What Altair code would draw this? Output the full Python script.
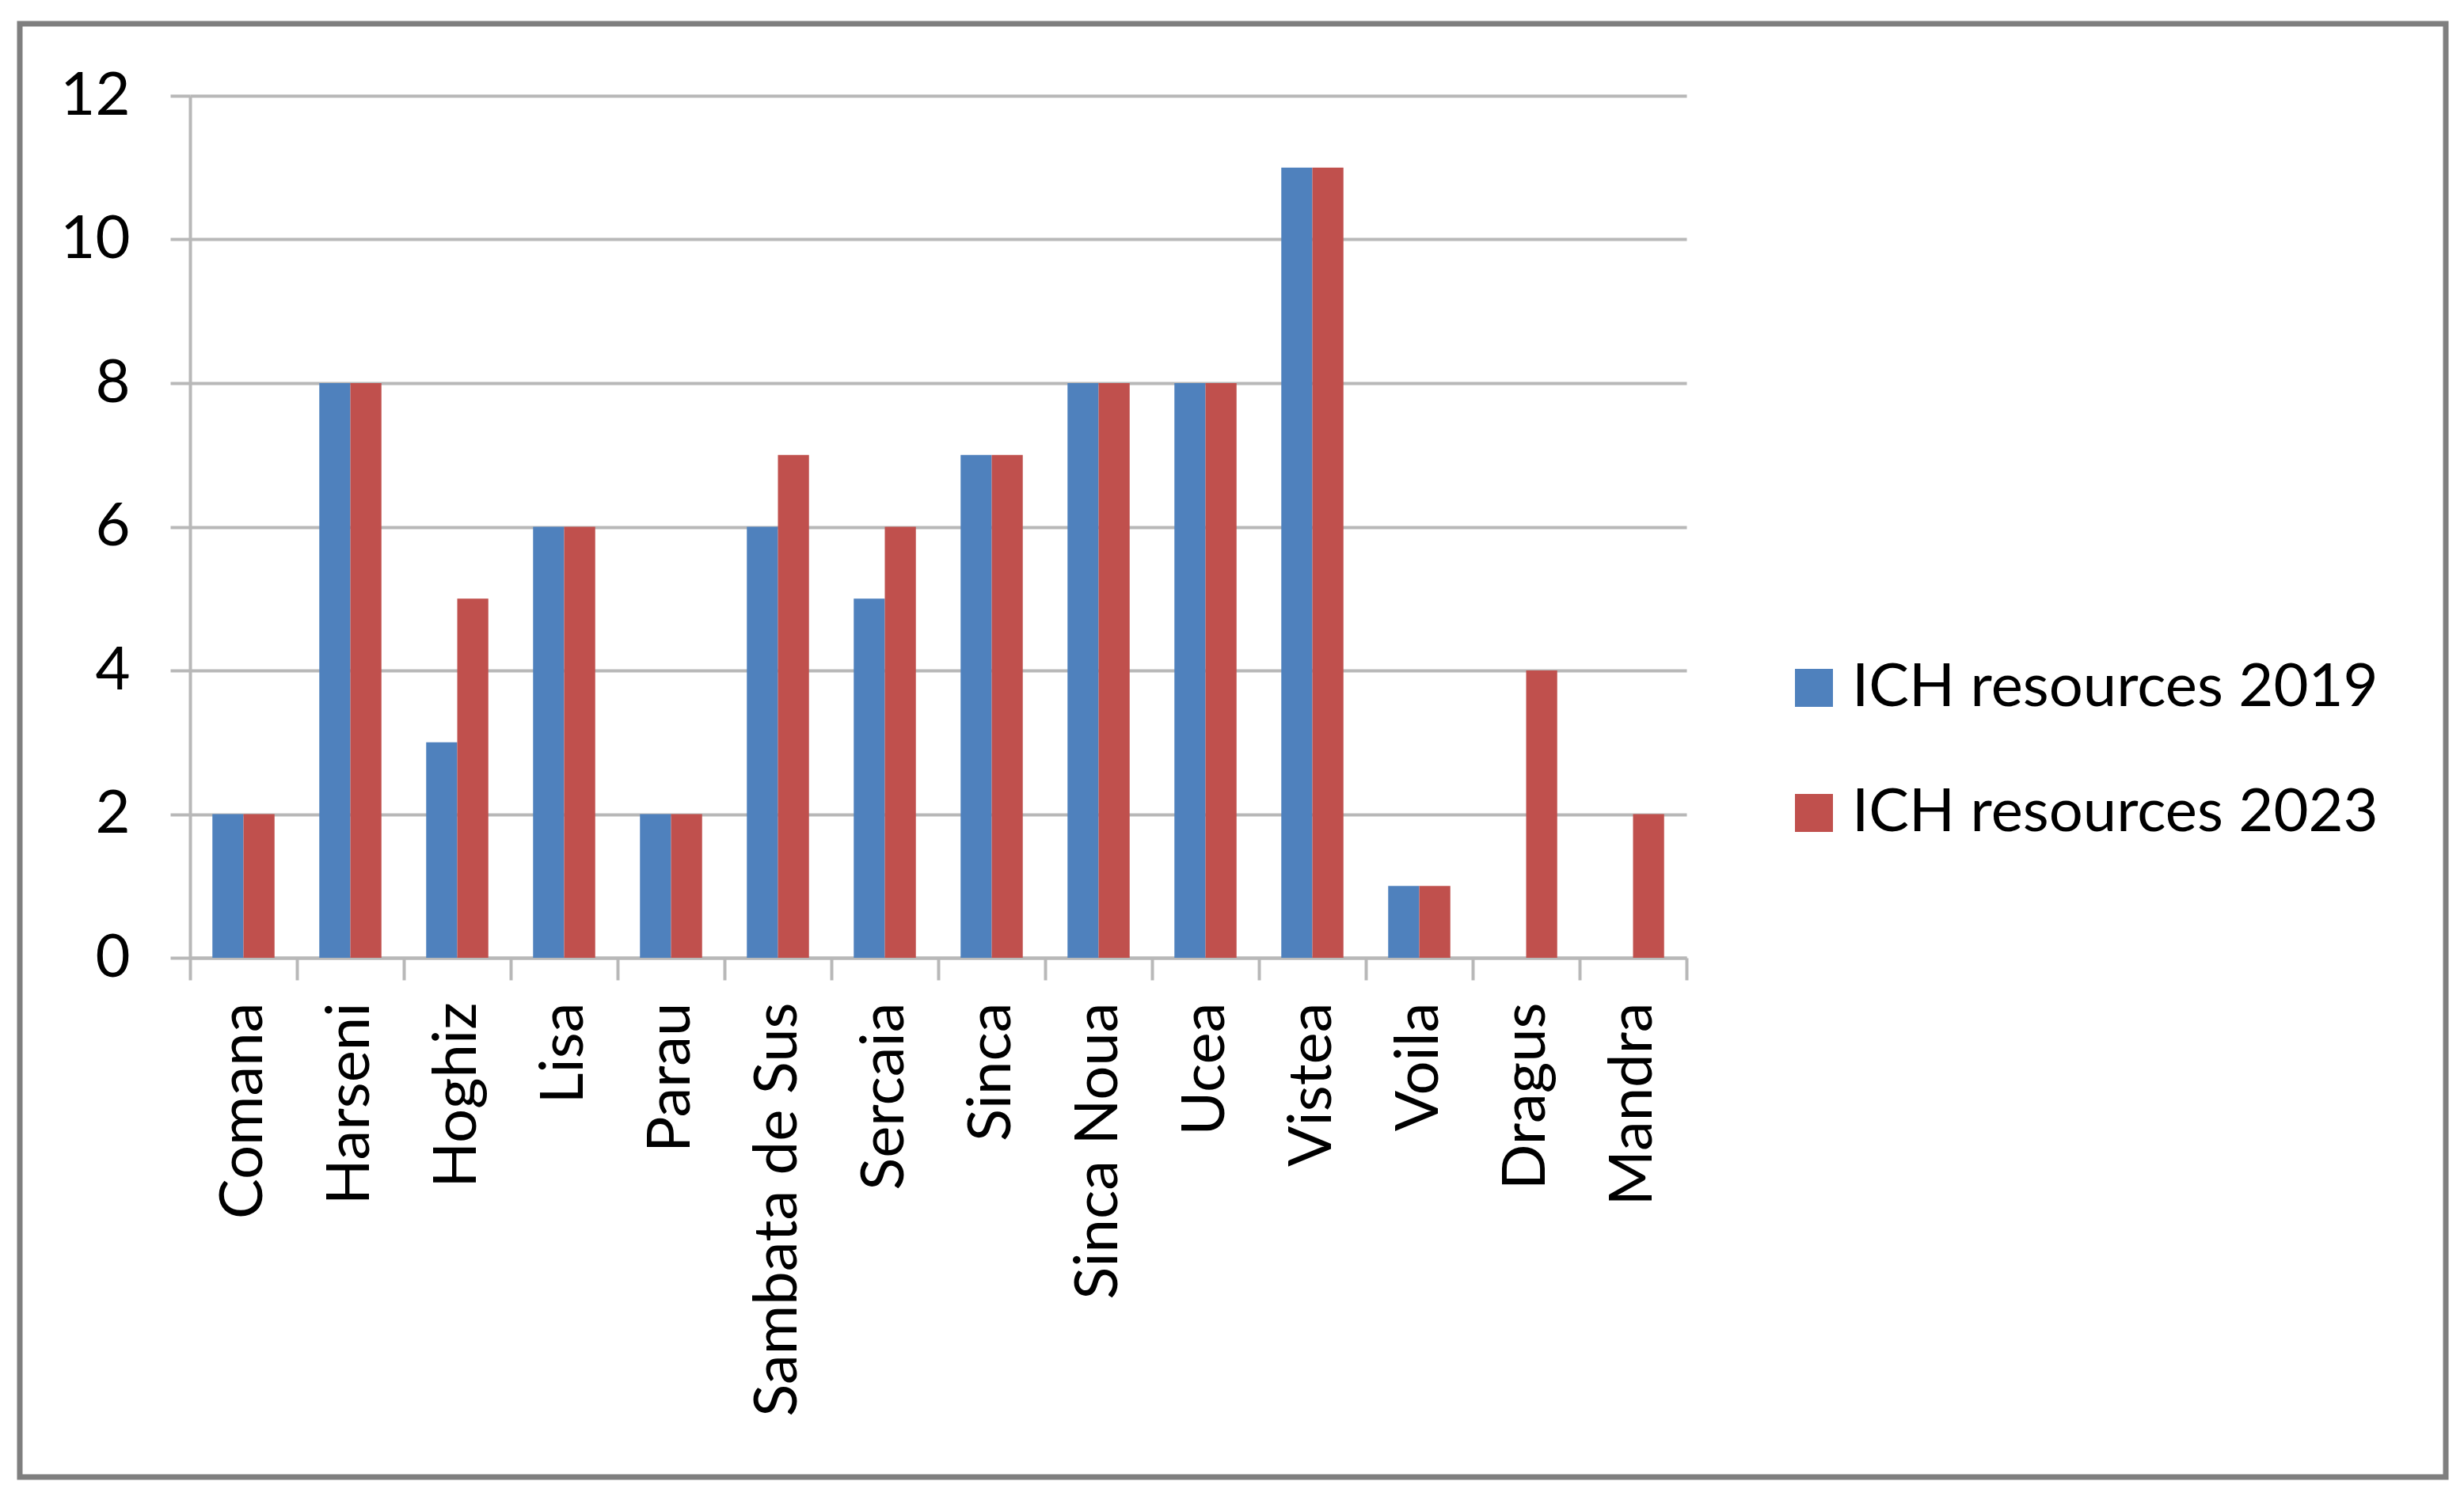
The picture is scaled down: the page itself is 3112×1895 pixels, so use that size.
import altair as alt
import pandas as pd

categories = ["Comana", "Harseni", "Hoghiz", "Lisa", "Parau", "Sambata de Sus",
              "Sercaia", "Sinca", "Sinca Noua", "Ucea", "Vistea", "Voila",
              "Dragus", "Mandra"]
values_2019 = [2, 8, 3, 6, 2, 6, 5, 7, 8, 8, 11, 1, 0, 0]
values_2023 = [2, 8, 5, 6, 2, 7, 6, 7, 8, 8, 11, 1, 4, 2]
series_names = ["ICH resources 2019", "ICH resources 2023"]
series_colors = ["#4F81BD", "#C0504D"]
y_ticks = [0, 2, 4, 6, 8, 10, 12]

rows = []
for c, a, b in zip(categories, values_2019, values_2023):
    rows.append({"category": c, "series": series_names[0], "value": a})
    rows.append({"category": c, "series": series_names[1], "value": b})
df = pd.DataFrame(rows)

FONT = "Lato"
FS = 76
GRID = "#b8b8b8"

bars = alt.Chart(df).mark_bar().encode(
    x=alt.X(
        "category:N", sort=categories,
        scale=alt.Scale(paddingInner=0, paddingOuter=0),
        axis=alt.Axis(
            title=None, labelAngle=270, labelAlign="right", labelBaseline="middle",
            labelPadding=28, tickSize=28, tickBand="extent",
            domainColor=GRID, domainWidth=4, tickColor=GRID, tickWidth=4,
            grid=False, labelFont=FONT, labelFontSize=FS, labelColor="#000000",
            labelLimit=0,
        ),
    ),
    xOffset=alt.XOffset("series:N", sort=series_names,
                        scale=alt.Scale(paddingOuter=0.72, paddingInner=0)),
    y=alt.Y(
        "value:Q",
        scale=alt.Scale(domain=[0, 12], nice=False),
        axis=alt.Axis(
            title=None, values=y_ticks, tickSize=25, labelPadding=51,
            domainColor=GRID, domainWidth=4, tickColor=GRID, tickWidth=4,
            grid=True, gridColor=GRID, gridWidth=4,
            labelFont=FONT, labelFontSize=FS, labelColor="#000000",
        ),
    ),
    color=alt.Color(
        "series:N", sort=series_names,
        scale=alt.Scale(domain=series_names, range=series_colors),
        legend=alt.Legend(
            title=None, orient="none", legendX=2013, legendY=710,
            symbolType="square", symbolSize=2304, symbolStrokeWidth=0,
            labelFont=FONT, labelFontSize=FS, labelOffset=10, rowPadding=82,
            padding=0, labelColor="#000000", labelLimit=0,
        ),
    ),
)

frame = alt.Chart(pd.DataFrame({"k": [0]})).mark_rect(
    fill="transparent", stroke="#7f7f7f", strokeWidth=7
).encode(
    x=alt.value(-215), x2=alt.value(2849), y=alt.value(-91), y2=alt.value(1745)
)

chart = alt.layer(bars, frame).properties(
    width=1890, height=1089,
    autosize=alt.AutoSizeParams(type="none"),
    padding={"left": 232, "top": 113, "right": 974, "bottom": 677},
    background="white",
).configure_view(strokeWidth=0)

chart.save("out.html", embed_options={"renderer": "svg", "actions": False})
